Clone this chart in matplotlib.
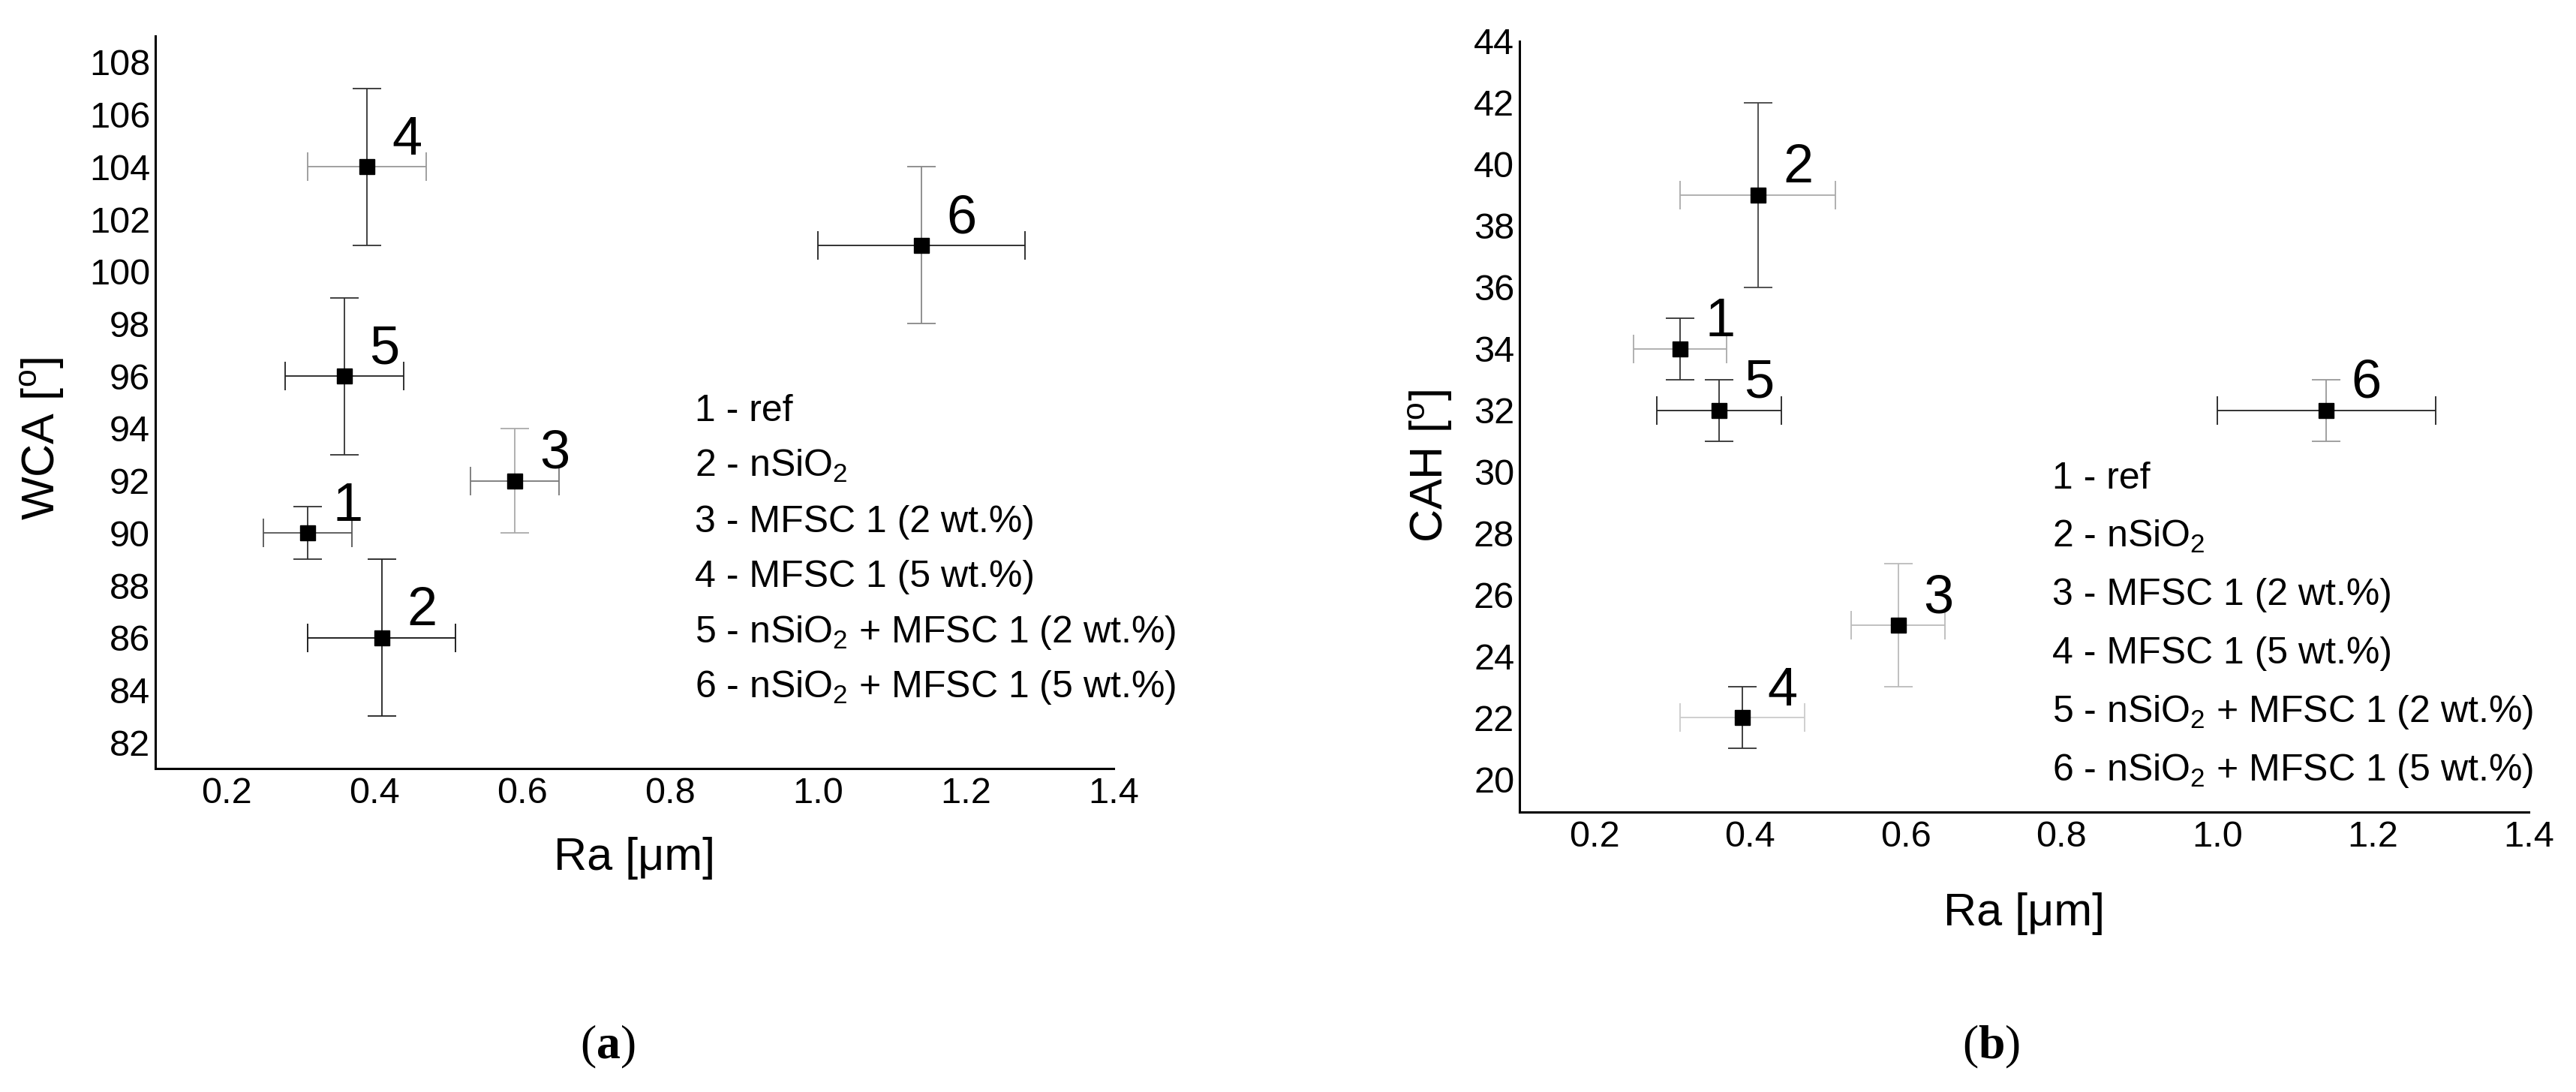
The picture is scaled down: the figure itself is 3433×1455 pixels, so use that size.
import numpy as np
import matplotlib
matplotlib.use("Agg")
import matplotlib.pyplot as plt

plt.rcParams['font.family'] = ['Liberation Sans', 'DejaVu Sans']
plt.rcParams['mathtext.fontset'] = 'custom'
plt.rcParams['mathtext.rm'] = 'Liberation Sans'
plt.rcParams['mathtext.bf'] = 'Liberation Serif:bold'

# sample numbers and names
samples = ['1', '2', '3', '4', '5', '6']
names = ['ref', r'nSiO$_\mathregular{2}$', 'MFSC 1 (2 wt.%)', 'MFSC 1 (5 wt.%)',
         r'nSiO$_\mathregular{2}$ + MFSC 1 (2 wt.%)', r'nSiO$_\mathregular{2}$ + MFSC 1 (5 wt.%)']

# roughness, shared by both panels
ra = [0.31, 0.41, 0.59, 0.39, 0.36, 1.14]
ra_err = [0.06, 0.10, 0.06, 0.08, 0.08, 0.14]

# water contact angle
wca = [90, 86, 92, 104, 96, 101]
wca_err = [1, 3, 2, 3, 3, 3]

# contact angle hysteresis
cah = [34, 39, 25, 22, 32, 32]
cah_err = [1, 3, 2, 1, 1, 1]

x_ticks = [0.2, 0.4, 0.6, 0.8, 1.0, 1.2, 1.4]
wca_ticks = list(range(82, 109, 2))
cah_ticks = list(range(20, 45, 2))

# error bar greys as they appear in the scan
wca_xcol = ['#555555', '#111111', '#777777', '#999999', '#222222', '#222222']
wca_ycol = ['#333333', '#222222', '#aaaaaa', '#333333', '#333333', '#888888']
cah_xcol = ['#aaaaaa', '#aaaaaa', '#bbbbbb', '#cccccc', '#222222', '#222222']
cah_ycol = ['#333333', '#444444', '#bbbbbb', '#333333', '#333333', '#999999']

fig = plt.figure(figsize=(34.33, 14.55), dpi=100)
ax1 = fig.add_axes([0.0603, 0.2962, 0.372, 0.6708])
ax2 = fig.add_axes([0.5899, 0.2564, 0.3918, 0.7058])


def draw_panel(ax, y, yerr, xcol, ycol, yticks, ylim, ylabel, leg_x, leg_y0, leg_dy):
    for i in range(len(samples)):
        ax.errorbar(ra[i], y[i], xerr=ra_err[i], fmt='none', ecolor=xcol[i],
                    elinewidth=1.3, capsize=14, capthick=1.3, zorder=2)
        ax.errorbar(ra[i], y[i], yerr=yerr[i], fmt='none', ecolor=ycol[i],
                    elinewidth=1.3, capsize=14, capthick=1.3, zorder=2)
        ax.annotate(samples[i], (ra[i], y[i]), xytext=(24, 12), textcoords='offset points',
                    ha='left', va='baseline', fontsize=52)
    ax.plot(ra, y, 's', color='black', markersize=15, zorder=3)

    ax.set_xlim(0.104, 1.4)
    ax.set_ylim(*ylim)
    ax.set_xticks(x_ticks)
    ax.set_xticklabels(['%.1f' % t for t in x_ticks])
    ax.set_yticks(yticks)
    ax.tick_params(length=0, labelsize=35)
    ax.tick_params(axis='x', pad=8)
    ax.tick_params(axis='y', pad=5)
    for s in ['top', 'right']:
        ax.spines[s].set_visible(False)
    for s in ['left', 'bottom']:
        ax.spines[s].set_linewidth(2.2)

    ax.set_xlabel('Ra [μm]', fontsize=44)
    ax.set_ylabel(ylabel, fontsize=44)

    for i in range(len(samples)):
        ax.text(leg_x, leg_y0 - i * leg_dy, samples[i] + ' - ' + names[i],
                transform=ax.transAxes, fontsize=36, va='baseline', ha='left')


draw_panel(ax1, wca, wca_err, wca_xcol, wca_ycol, wca_ticks, (81, 109),
           r'WCA [$^\mathregular{o}$]', 0.563, 0.474, 0.0754)
ax1.xaxis.set_label_coords(0.5, -0.093)
ax1.yaxis.set_label_coords(-0.093, 0.45)

draw_panel(ax2, cah, cah_err, cah_xcol, cah_ycol, cah_ticks, (18.93, 44),
           r'CAH [$^\mathregular{o}$]', 0.528, 0.42, 0.0758)
ax2.xaxis.set_label_coords(0.5, -0.104)
ax2.yaxis.set_label_coords(-0.065, 0.449)

fig.text(0.236, 0.041, r'($\mathbf{a}$)', family='Liberation Serif', fontsize=46,
         ha='center', va='center')
fig.text(0.773, 0.041, r'($\mathbf{b}$)', family='Liberation Serif', fontsize=46,
         ha='center', va='center')

fig.savefig('out.png', dpi=100)
